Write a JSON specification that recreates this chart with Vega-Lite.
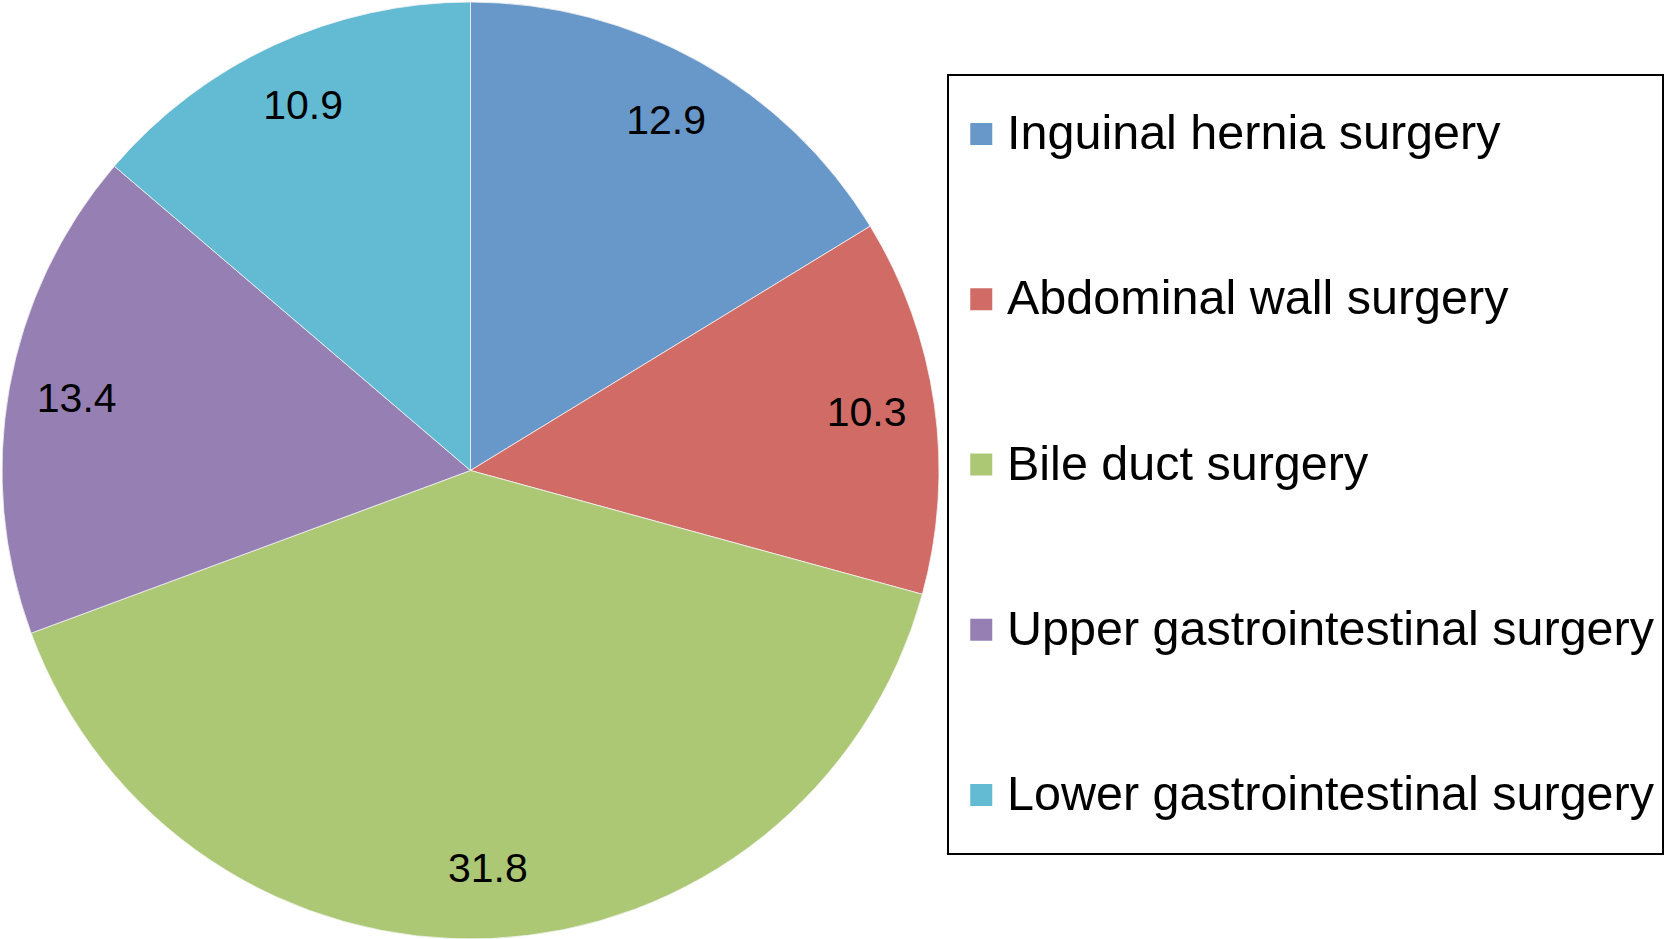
{
  "$schema": "https://vega.github.io/schema/vega-lite/v6.json",
  "width": 937,
  "height": 939,
  "padding": 0,
  "autosize": {"type": "pad"},
  "background": "white",
  "data": {
    "values": [
      {"category": "Inguinal hernia surgery", "value": 12.9, "order": 1},
      {"category": "Abdominal wall surgery", "value": 10.3, "order": 2},
      {"category": "Bile duct surgery", "value": 31.8, "order": 3},
      {"category": "Upper gastrointestinal surgery", "value": 13.4, "order": 4},
      {"category": "Lower gastrointestinal surgery", "value": 10.9, "order": 5}
    ]
  },
  "encoding": {
    "theta": {"field": "value", "type": "quantitative", "stack": true},
    "order": {"field": "order", "type": "quantitative"}
  },
  "layer": [
    {
      "mark": {"type": "arc", "stroke": "#f4f4f4", "strokeWidth": 0.8},
      "encoding": {
        "color": {
          "field": "category",
          "type": "nominal",
          "sort": null,
          "scale": {
            "domain": ["Inguinal hernia surgery", "Abdominal wall surgery", "Bile duct surgery", "Upper gastrointestinal surgery", "Lower gastrointestinal surgery"],
            "range": ["#6798C9", "#D06B66", "#ACC874", "#967FB3", "#62BBD3"]
          },
          "legend": {
            "orient": "none",
            "legendX": 946,
            "legendY": 74,
            "title": null
          }
        }
      }
    },
    {
      "mark": {"type": "text", "radius": 400, "fontSize": 41, "font": "Liberation Sans", "color": "black"},
      "encoding": {
        "text": {"field": "value", "type": "quantitative", "format": ".1f"}
      }
    }
  ],
  "config": {
    "view": {"stroke": null},
    "legend": {
      "strokeColor": "black",
      "strokeWidth": 2,
      "fillColor": "white",
      "padding": 9,
      "clipHeight": 100,
      "symbolType": "square",
      "symbolSize": 484,
      "symbolStrokeWidth": 0,
      "labelFontSize": 48.5,
      "labelFont": "Liberation Sans",
      "labelColor": "black",
      "labelOffset": 1.5,
      "labelLimit": 0,
      "rowPadding": 65.25
    }
  }
}
